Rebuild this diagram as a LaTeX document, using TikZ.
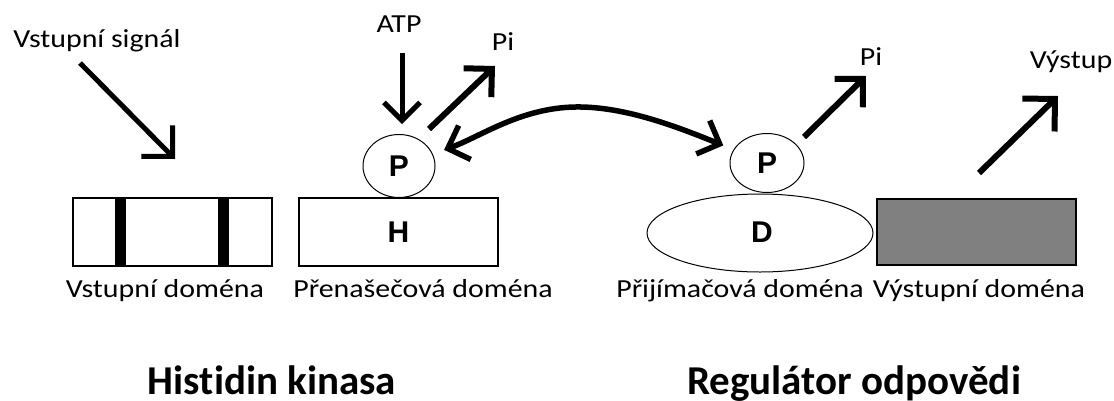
\documentclass[tikz,border=0pt]{standalone}
\usepackage{fontspec}
\setmainfont{Carlito}[Ligatures={NoCommon}]
\newfontfamily\arialfont{Liberation Sans}
\usepackage{graphicx}
\usetikzlibrary{arrows.meta,shapes.geometric}
\newcommand{\lbl}[1]{\scalebox{1.15}[1]{#1}}
\begin{document}
\begin{tikzpicture}[x=1pt,y=-1pt,
  lab/.style={font=\fontsize{26}{28}\selectfont, inner sep=0pt, anchor=base},
  ttl/.style={font=\fontsize{41}{44}\selectfont\bfseries, inner sep=0pt, anchor=base},
  letter/.style={font=\arialfont\bfseries\fontsize{30}{30}\selectfont, inner sep=0pt},
  dombox/.style={draw, line width=1.6pt, minimum width=199pt, minimum height=68pt, inner sep=0pt},
  ring/.style={ellipse, draw, line width=1pt, inner sep=0pt},
  sigarrow/.style={line width=5pt, -{Straight Barb[length=22pt, width=44pt, sharp]}},
  atparrow/.style={line width=5pt, -{Straight Barb[length=18pt, width=36pt, sharp]}},
  piarrow/.style={line width=6pt, -{Straight Barb[length=20pt, width=40pt, sharp]}},
  outarrow/.style={line width=6pt, -{Straight Barb[length=23pt, width=46pt, sharp]}},
  curvearrow/.style={line width=5.5pt, {Straight Barb[length=18pt, width=36pt, sharp]}-{Straight Barb[length=18pt, width=36pt, sharp]}}
]
\useasboundingbox (0,0) rectangle (1114,400);

% domains
\fill (115,198) rectangle (126,266);
\fill (218,198) rectangle (229,266);
\node[dombox] (inDom) at (172.5,232) {};
\node[dombox] (hDom) at (398.5,232) {};
\node[letter] (H) at (hDom.center) {H};
\node[dombox, fill={rgb,255:red,128;green,128;blue,128}, line width=2pt, minimum height=66pt] (outDom) at (976.5,232) {};

\node[ring, minimum width=226pt, minimum height=78pt] (D) at (760,233) {};
\node[letter] (Dl) at (762,232) {D};
\node[ring, minimum width=72pt, minimum height=63pt] (P1) at (399,166) {};
\node[letter] at (P1.center) {P};
\node[ring, minimum width=74pt, minimum height=59pt] (P2) at (767,163) {};
\node[letter] at (P2.center) {P};

% labels
\node[lab] (tSig) at (97,47) {\lbl{Vstupní signál}};
\node[lab] (tATP) at (399,32) {\lbl{ATP}};
\node[lab] (tPi1) at (503,50) {\lbl{Pi}};
\node[lab] (tPi2) at (871,65) {\lbl{Pi}};
\node[lab] (tOut) at (1071,68) {\lbl{Výstup}};

\node[lab] (l1) at (165,297) {\lbl{Vstupní doména}};
\node[lab] (l2) at (423,297) {\lbl{Přenašečová doména}};
\node[lab] (l3) at (740,297) {\lbl{Přijímačová doména}};
\node[lab] (l4) at (979,297) {\lbl{Výstupní doména}};

\node[ttl] (t1) at (272,394) {Histidin kinasa};
\node[ttl] (t2) at (854,394) {Regulátor odpovědi};

% arrow ends
\coordinate (sigS) at (80,63);   \coordinate (sigE) at (175,159);
\coordinate (atpS) at (402,53);  \coordinate (atpE) at (402,124);
\coordinate (pi1S) at (429,129); \coordinate (pi1E) at (495,66);
\coordinate (pi2S) at (804,137); \coordinate (pi2E) at (866,76);
\coordinate (outS) at (979,173); \coordinate (outE) at (1058,96);

\draw[sigarrow] (sigS) -- (sigE);
\draw[atparrow] (atpS) -- (atpE);
\draw[piarrow] (pi1S) -- (pi1E);
\draw[piarrow] (pi2S) -- (pi2E);
\draw[outarrow] (outS) -- (outE);

\draw[curvearrow, shorten <=12pt, shorten >=11pt] (P1) .. controls (480,137) and (520,108) .. (575,107) .. controls (625,106) and (680,128) .. (P2);
\end{tikzpicture}
\end{document}
